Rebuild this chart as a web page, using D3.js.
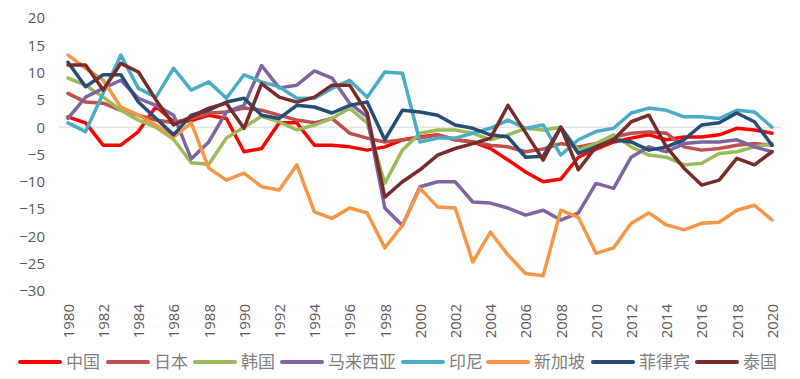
<!DOCTYPE html>
<html><head><meta charset="utf-8">
<script src="https://cdn.jsdelivr.net/npm/d3@7"></script>
<style>body{margin:0;background:#fff;}svg{display:block;}</style>
</head><body>
<svg id="chart" width="800" height="379"></svg>
<script>
const years = d3.range(1980, 2021);
const xTickYears = d3.range(1980, 2021, 2);
const yTicks = [20, 15, 10, 5, 0, -5, -10, -15, -20, -25, -30];
const seriesNames = ["中国", "日本", "韩国", "马来西亚", "印尼", "新加坡", "菲律宾", "泰国"];
const seriesColors = ["#ff0000", "#c0504d", "#9bbb59", "#8064a2", "#4bacc6", "#f79646", "#264d78", "#772c2a"];

const china = [1.9,0.8,-3.3,-3.3,-0.8,3.8,1.0,1.2,2.2,1.6, -4.5,-3.9,0.8,0.8,-3.3,-3.3,-3.6,-4.2,-3.6,-2.3, -1.8,-1.4,-2.3,-2.7,-3.9,-6.0,-8.2,-10.0,-9.5,-5.5, -4.0,-2.7,-2.0,-1.4,-2.3,-1.8,-1.8,-1.4,-0.2,-0.5,-1.1];
const japan = [6.2,4.6,4.4,3.1,2.2,1.3,0.8,1.6,2.6,2.8, 3.5,3.1,2.2,1.3,0.8,1.6,-1.1,-2.0,-2.7,-2.3, -2.0,-1.4,-2.3,-2.7,-3.3,-3.6,-4.5,-4.0,-3.0,-3.6, -3.0,-1.8,-1.1,-0.9,-1.1,-3.6,-4.2,-3.9,-3.3,-3.0,-3.3];
const korea = [9.0,7.7,5.5,3.1,1.3,0.0,-2.2,-6.5,-6.8,-2.0, 0.0,2.0,1.0,-0.5,0.4,1.6,3.5,0.8,-10.3,-4.2, -1.1,-0.5,-0.5,-1.1,-2.3,-1.4,-0.2,-0.5,0.0,-4.2, -3.0,-1.4,-3.6,-5.1,-5.5,-6.9,-6.6,-4.8,-4.5,-3.6,-3.0];
const malaysia = [1.6,5.5,7.1,8.6,5.3,4.0,2.2,-5.8,-2.7,2.8, 4.0,11.3,7.2,7.7,10.3,9.0,4.4,1.9,-14.8,-18.0, -10.9,-10.0,-10.0,-13.7,-13.9,-14.8,-16.1,-15.2,-17.0,-15.7, -10.3,-11.2,-5.5,-3.6,-4.5,-3.0,-2.7,-2.7,-2.3,-3.6,-4.5];
const indonesia = [0.8,-0.8,6.2,13.2,7.1,5.5,10.8,6.8,8.3,5.3, 9.6,8.3,7.4,5.3,5.3,7.1,8.6,5.5,10.1,9.9, -2.7,-2.0,-2.0,-1.1,-0.2,1.3,-0.2,0.4,-5.1,-2.3, -0.8,-0.2,2.6,3.5,3.1,1.9,1.9,1.6,3.1,2.8,0.0];
const singapore = [13.2,10.8,8.6,3.7,2.2,0.4,-1.8,0.8,-7.5,-9.7, -8.4,-10.9,-11.5,-6.9,-15.5,-16.7,-14.8,-15.7,-22.1,-18.0, -11.2,-14.6,-14.8,-24.7,-19.2,-23.4,-26.8,-27.2,-15.2,-16.5, -23.1,-22.1,-17.6,-15.7,-17.9,-18.8,-17.6,-17.4,-15.2,-14.3,-17.0];
const philippines = [11.9,7.4,9.6,9.6,4.6,1.6,-1.4,2.2,3.1,4.6, 5.3,2.2,1.6,4.0,3.7,2.6,4.0,4.6,-2.3,3.1, 2.8,2.2,0.4,-0.2,-1.4,-1.8,-5.5,-5.3,0.0,-4.8, -3.6,-2.3,-2.7,-4.2,-3.6,-2.3,0.4,0.8,2.6,1.0,-3.3];
const thailand = [11.4,11.4,6.8,11.7,10.1,5.0,0.4,1.9,3.5,4.4, -0.2,8.0,5.5,4.6,5.5,7.7,7.7,2.6,-12.8,-10.0, -7.8,-5.1,-3.9,-3.0,-2.0,4.0,-1.0,-6.0,0.0,-7.8, -3.6,-2.3,1.0,2.2,-3.6,-7.5,-10.6,-9.7,-5.7,-6.9,-4.5];

const seriesValues = [china, japan, korea, malaysia, indonesia, singapore, philippines, thailand];

const svg = d3.select("#chart");
const x = d3.scalePoint().domain(years).range([68, 772]);
const y = d3.scaleLinear().domain([-30, 20]).range([291, 18]);

// zero line
svg.append("line")
  .attr("x1", 59).attr("x2", 781)
  .attr("y1", y(0)).attr("y2", y(0))
  .attr("stroke", "#d9d9d9").attr("stroke-width", 1);

// y axis labels
const yAxis = d3.axisLeft(y).tickValues(yTicks).tickSize(0).tickPadding(0);
const gy = svg.append("g").attr("transform", "translate(45,0)").call(yAxis);
gy.select(".domain").remove();
gy.selectAll("text")
  .attr("font-family", "'Open Sans', sans-serif")
  .attr("font-size", 15).attr("fill", "#595959");

// x axis labels
const xAxis = d3.axisBottom(x).tickValues(xTickYears).tickSize(0).tickPadding(0);
const gx = svg.append("g").attr("transform", "translate(0,304)").call(xAxis);
gx.select(".domain").remove();
gx.selectAll("text")
  .attr("font-family", "'Open Sans', sans-serif")
  .attr("font-size", 15).attr("fill", "#595959")
  .attr("transform", "rotate(-90)")
  .attr("text-anchor", "end")
  .attr("x", 0).attr("y", 0).attr("dy", "0.35em").attr("dx", 0);

// lines
const line = d3.line().x((d, i) => x(years[i])).y(d => y(d));
seriesValues.forEach((vals, k) => {
  svg.append("path")
    .attr("d", line(vals))
    .attr("fill", "none")
    .attr("stroke", seriesColors[k])
    .attr("stroke-width", 3.5)
    .attr("stroke-linejoin", "round")
    .attr("stroke-linecap", "round");
});

// legend
const legendX = [20, 108, 195, 282, 403, 488, 593, 697];
const legend = svg.append("g");
seriesNames.forEach((name, k) => {
  const g = legend.append("g").attr("transform", `translate(${legendX[k]},362)`);
  g.append("line").attr("x1", 0).attr("x2", 40).attr("y1", 0).attr("y2", 0)
    .attr("stroke", seriesColors[k]).attr("stroke-width", 4).attr("stroke-linecap", "round");
  g.append("text").attr("x", 46).attr("y", 0).attr("dy", "0.36em")
    .attr("font-family", "'Noto Sans CJK SC', sans-serif")
    .attr("font-size", 17).attr("fill", "#7f7f7f")
    .text(name);
});
</script>
</body></html>
